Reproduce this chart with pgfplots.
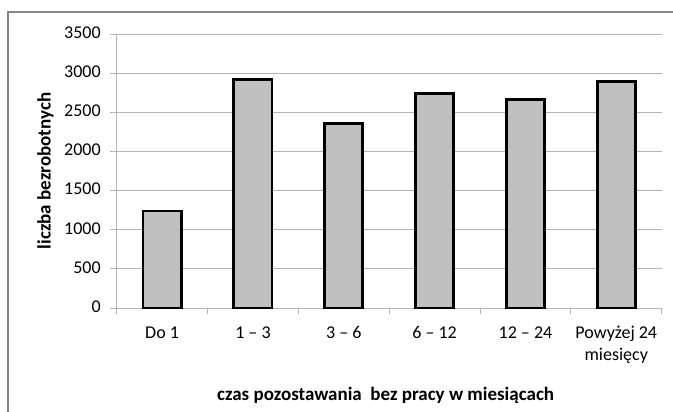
\documentclass[border=0pt]{standalone}
\usepackage{fontspec}
\setmainfont{Carlito}
\usepackage{pgfplots}
\pgfplotsset{compat=1.18}
\definecolor{barfill}{RGB}{192,192,192}
\definecolor{gridc}{RGB}{180,180,180}
\definecolor{framec}{RGB}{134,134,134}
\newcommand{\tfont}{\fontsize{18bp}{22bp}\selectfont}
\newcommand{\lfont}{\fontsize{19bp}{23bp}\selectfont}
\begin{document}
\begin{tikzpicture}
\useasboundingbox (0bp,0bp) rectangle (673bp,412bp);
\draw[overlay, framec, line width=1.4bp] (8bp,-5bp) -- (8bp,400bp) -- (690bp,400bp);
\begin{axis}[
  at={(116.7bp,104bp)}, anchor=south west,
  scale only axis, width=545bp, height=274bp,
  xmin=-0.5, xmax=5.5, ymin=0, ymax=3500,
  ytick={0,500,...,3500},
  xtick={0,...,5},
  minor xtick={-0.5,0.5,1.5,2.5,3.5,4.5,5.5},
  xticklabels={Do 1, 1 – 3, 3 – 6, 6 – 12, 12 – 24, {Powyżej 24\\miesięcy}},
  every major x tick/.style={draw=none},
  tick align=outside,
  major tick length=6.5bp, minor tick length=6bp,
  tick style={draw=gridc, line width=1bp},
  axis x line*=bottom, axis y line*=left,
  axis line style={-, draw=gridc, line width=1bp},
  ymajorgrids, grid style={draw=gridc, line width=1bp},
  every tick label/.append style={font=\tfont},
  yticklabel style={xshift=-6bp},
  typeset ticklabels with strut,
  xticklabel style={align=center, anchor=north, yshift=-5bp},
  /pgf/number format/1000 sep={},
  label style={font=\lfont\bfseries},
  ylabel={liczba bezrobotnych},
  xlabel={czas pozostawania\ \ bez pracy w miesiącach},
  ylabel style={at={(axis description cs:-0.1306,0.5)}, anchor=center},
  xlabel style={at={(axis description cs:0.4934,-0.3358)}, anchor=base},
  /pgf/number format/assume math mode=true,
  clip=false,
]
\addplot[ybar, bar width=0.42, fill=barfill, draw=black, line width=2.8bp]
  coordinates {(0,1240) (1,2920) (2,2355) (3,2745) (4,2665) (5,2895)};
\end{axis}
\end{tikzpicture}
\end{document}
